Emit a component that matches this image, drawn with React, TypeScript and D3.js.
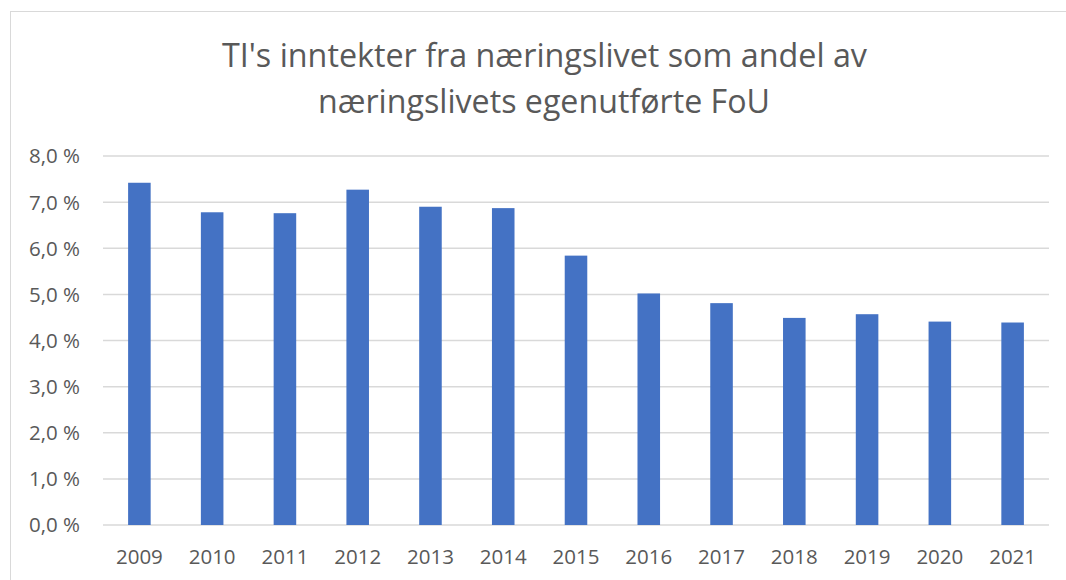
import * as React from "react";
import * as d3 from "d3";

// values (share, in %)
const years = ["2009", "2010", "2011", "2012", "2013", "2014", "2015", "2016", "2017", "2018", "2019", "2020", "2021"];
const shares = [7.42, 6.78, 6.76, 7.27, 6.9, 6.87, 5.84, 5.02, 4.81, 4.49, 4.57, 4.41, 4.39];
const yTicks = [0, 1, 2, 3, 4, 5, 6, 7, 8];
const titleLines = ["TI's inntekter fra næringslivet som andel av", "næringslivets egenutførte FoU"];

const width = 1066;
const height = 580;
const margin = { top: 156, right: 17, bottom: 55, left: 103 };
const textColor = "#595959";
const font = "'Open Sans', 'Noto Sans', sans-serif";

export default function App() {
  const x = d3
    .scaleBand()
    .domain(years)
    .range([margin.left, width - margin.right])
    .paddingInner(0.69)
    .paddingOuter(0.345);

  const y = d3
    .scaleLinear()
    .domain([0, 8])
    .range([height - margin.bottom, margin.top]);

  const fmt = (v: number) => d3.format(".1f")(v).replace(".", ",") + " %";

  return (
    <svg
      width={width}
      height={height}
      style={{ position: "absolute", left: 0, top: 0, background: "#fff" }}
    >
      <rect x={10.5} y={11.5} width={width + 10} height={height + 10} fill="none" stroke="#d9d9d9" />

      <g fill={textColor} fontFamily={font} fontSize={33} textAnchor="middle">
        <text x={544.5} y={67} textLength={645} lengthAdjust="spacingAndGlyphs">
          {titleLines[0]}
        </text>
        <text x={544} y={113} textLength={452} lengthAdjust="spacingAndGlyphs">
          {titleLines[1]}
        </text>
      </g>

      <g>
        {yTicks.map((t) => (
          <g key={t}>
            <line
              x1={margin.left}
              x2={width - margin.right}
              y1={y(t)}
              y2={y(t)}
              stroke="#d9d9d9"
              strokeWidth={1.5}
            />
            <text
              x={80}
              y={y(t)}
              dy="0.36em"
              textAnchor="end"
              fill={textColor}
              fontFamily={font}
              fontSize={20.5}
            >
              {fmt(t)}
            </text>
          </g>
        ))}
      </g>

      <g>
        {years.map((yr, i) => (
          <rect
            key={yr}
            x={x(yr)}
            y={y(shares[i])}
            width={x.bandwidth()}
            height={y(0) - y(shares[i])}
            fill="#4472C4"
          />
        ))}
      </g>

      <g fill={textColor} fontFamily={font} fontSize={20.5} textAnchor="middle">
        {years.map((yr) => (
          <text key={yr} x={(x(yr) as number) + x.bandwidth() / 2} y={564}>
            {yr}
          </text>
        ))}
      </g>
    </svg>
  );
}
